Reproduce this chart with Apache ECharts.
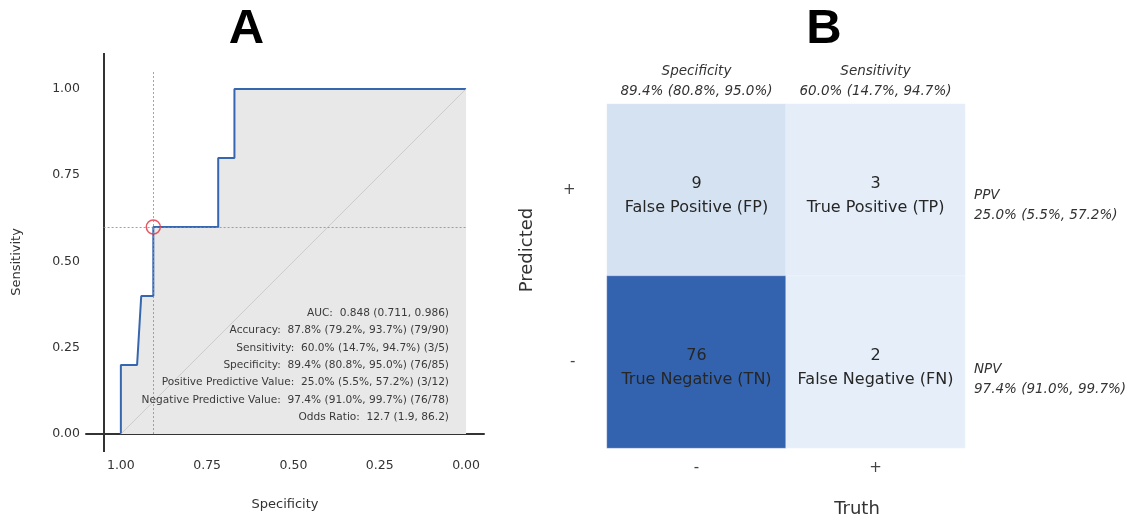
<!DOCTYPE html>
<html>
<head>
<meta charset="utf-8">
<script src="https://cdn.jsdelivr.net/npm/echarts@6/dist/echarts.min.js"></script>
<style>
  html, body { margin: 0; padding: 0; background: #fff; }
  #chart { width: 1131px; height: 519px; }
</style>
</head>
<body>
<div id="chart"></div>
<script>
// ---- Panel A: ROC curve (specificity on a reversed axis, sensitivity) ----
const rocSpecificity = [1, 1, 0.953, 0.941, 0.906, 0.906, 0.718, 0.718, 0.671, 0.671, 0];
const rocSensitivity = [0, 0.2, 0.2, 0.4, 0.4, 0.6, 0.6, 0.8, 0.8, 1, 1];
// operating point at the chosen threshold
const cutSpecificity = 0.906;
const cutSensitivity = 0.6;
const rocTicks = [0, 0.25, 0.5, 0.75, 1];
const statLines = [
  'AUC:  0.848 (0.711, 0.986)',
  'Accuracy:  87.8% (79.2%, 93.7%) (79/90)',
  'Sensitivity:  60.0% (14.7%, 94.7%) (3/5)',
  'Specificity:  89.4% (80.8%, 95.0%) (76/85)',
  'Positive Predictive Value:  25.0% (5.5%, 57.2%) (3/12)',
  'Negative Predictive Value:  97.4% (91.0%, 99.7%) (76/78)',
  'Odds Ratio:  12.7 (1.9, 86.2)'
];

// ---- Panel B: confusion matrix ----
const truthLabels = ['-', '+'];
const predLabels = ['-', '+'];          // bottom to top
const cellTruth = [0, 1, 0, 1];
const cellPred = [1, 1, 0, 0];
const cellCounts = [9, 3, 76, 2];
const cellNames = ['False Positive (FP)', 'True Positive (TP)', 'True Negative (TN)', 'False Negative (FN)'];
const colHeaders = [['Specificity', '89.4% (80.8%, 95.0%)'], ['Sensitivity', '60.0% (14.7%, 94.7%)']];
const rowNotes = [['PPV', '25.0% (5.5%, 57.2%)'], ['NPV', '97.4% (91.0%, 99.7%)']];

const FONT = 'DejaVu Sans';
const TXT = '#333';

const rocPoints = rocSpecificity.map((s, i) => [s, rocSensitivity[i]]);
const heatData = cellCounts.map((v, i) => ({ value: [cellTruth[i], cellPred[i], v], name: cellNames[i] }));

const SPINE_AT = 1.05;   // where the vertical spine and guide lines sit

const chart = echarts.init(document.getElementById('chart'), null, { renderer: 'canvas' });

const graphics = [];
function txt(x, y, text, opts) {
  graphics.push(Object.assign({
    type: 'text', x: x, y: y, z: 100, silent: true,
    style: Object.assign({
      text: text, fill: TXT, fontFamily: FONT, fontSize: 13,
      textAlign: 'center', textVerticalAlign: 'middle'
    }, opts && opts.style)
  }, opts && opts.rotation !== undefined ? { rotation: opts.rotation } : {}));
}

// panel letters
txt(246.5, 29, 'A', { style: { fontFamily: 'Liberation Sans', fontWeight: 'bold', fontSize: 49, fill: '#000' } });
txt(824, 29, 'B', { style: { fontFamily: 'Liberation Sans', fontWeight: 'bold', fontSize: 49, fill: '#000' } });

// panel A axis titles
txt(285, 505, 'Specificity', { style: { fontSize: 13 } });
txt(17, 262, 'Sensitivity', { style: { fontSize: 13 }, rotation: Math.PI / 2 });

// statistics block
statLines.forEach((s, i) => {
  txt(449, 313.3 + 17.3 * i, s, { style: { fontSize: 10.6, textAlign: 'right', fill: '#3a3a3a' } });
});

// panel B headers and side notes
const colCenters = [696.5, 875.5];
colHeaders.forEach((h, i) => {
  txt(colCenters[i], 71, h[0], { style: { fontSize: 13.5, fontStyle: 'italic' } });
  txt(colCenters[i], 91.5, h[1], { style: { fontSize: 13.5, fontStyle: 'italic' } });
});
const noteTops = [195, 369];
rowNotes.forEach((n, i) => {
  txt(974, noteTops[i], n[0], { style: { fontSize: 13.5, fontStyle: 'italic', textAlign: 'left' } });
  txt(974, noteTops[i] + 20.5, n[1], { style: { fontSize: 13.5, fontStyle: 'italic', textAlign: 'left' } });
});

// panel B axis titles
txt(857, 509, 'Truth', { style: { fontSize: 18 } });
txt(527, 250, 'Predicted', { style: { fontSize: 18 }, rotation: Math.PI / 2 });

const option = {
  backgroundColor: '#fff',
  animation: false,
  grid: [
    { left: 86, right: 1131 - 484, top: 53, bottom: 519 - 452 },
    { left: 607, right: 1131 - 965, top: 104, bottom: 519 - 448 }
  ],
  xAxis: [
    {
      gridIndex: 0, type: 'value', inverse: true, min: -0.052, max: 1.101,
      axisLine: { show: true, onZero: true, lineStyle: { color: '#333', width: 2 } },
      axisTick: { show: false },
      splitLine: { show: false },
      axisLabel: {
        customValues: rocTicks, margin: 7, fontSize: 12.5, color: TXT, fontFamily: FONT,
        formatter: v => v.toFixed(2)
      }
    },
    {
      gridIndex: 1, type: 'category', data: truthLabels,
      axisLine: { show: false }, axisTick: { show: false }, splitLine: { show: false },
      axisLabel: { margin: 13, fontSize: 15, color: '#444', fontFamily: FONT }
    }
  ],
  yAxis: [
    {
      gridIndex: 0, type: 'value', min: -0.052, max: 1.104,
      axisLine: { show: false },
      axisTick: { show: false },
      splitLine: { show: false },
      axisLabel: {
        customValues: rocTicks, margin: 6, fontSize: 12.5, color: TXT, fontFamily: FONT,
        formatter: v => v.toFixed(2)
      }
    },
    {
      gridIndex: 1, type: 'category', data: predLabels,
      axisLine: { show: false }, axisTick: { show: false }, splitLine: { show: false },
      axisLabel: { margin: 31.5, fontSize: 15, color: '#444', fontFamily: FONT }
    }
  ],
  visualMap: {
    show: false, type: 'continuous', seriesIndex: 3, dimension: 2,
    min: 2, max: 76,
    inRange: { color: ['#e6eff9', '#3363ae'] }
  },
  series: [
    {
      // shaded area under the ROC curve plus reference lines
      type: 'line', xAxisIndex: 0, yAxisIndex: 0, z: 1,
      data: rocPoints, showSymbol: false, silent: true,
      lineStyle: { width: 0 },
      areaStyle: { color: '#e8e8e8', opacity: 1 },
      markLine: {
        silent: true, symbol: 'none', label: { show: false },
        data: [
          // left spine
          [{ coord: [SPINE_AT, -0.052], lineStyle: { color: '#333', width: 2, type: 'solid' } },
           { coord: [SPINE_AT, 1.104] }],
          // chance diagonal
          [{ coord: [1, 0], lineStyle: { color: '#c4c4c4', width: 0.8, type: 'solid' } },
           { coord: [0, 1] }],
          // guide lines through the operating point
          [{ coord: [cutSpecificity, 0], lineStyle: { color: '#8a8a8a', width: 0.8, type: [2, 2] } },
           { coord: [cutSpecificity, SPINE_AT] }],
          [{ coord: [SPINE_AT, cutSensitivity], lineStyle: { color: '#8a8a8a', width: 0.8, type: [2, 2] } },
           { coord: [0, cutSensitivity] }]
        ]
      }
    },
    {
      type: 'line', xAxisIndex: 0, yAxisIndex: 0, z: 3,
      data: rocPoints, showSymbol: false, silent: true,
      lineStyle: { color: '#3766b0', width: 2 }
    },
    {
      type: 'scatter', xAxisIndex: 0, yAxisIndex: 0, z: 4,
      data: [[cutSpecificity, cutSensitivity]], symbol: 'circle', symbolSize: 14, silent: true,
      itemStyle: { color: 'rgba(0,0,0,0)', borderColor: '#e0303c', borderWidth: 1.5 }
    },
    {
      type: 'heatmap', xAxisIndex: 1, yAxisIndex: 1,
      data: heatData,
      itemStyle: { borderColor: 'rgba(255,255,255,0.45)', borderWidth: 0.6 },
      label: {
        show: true, color: '#262626', fontFamily: FONT, fontSize: 16, lineHeight: 24,
        offset: [0, 6],
        formatter: p => p.value[2] + '\n' + p.name
      },
      emphasis: { disabled: true }
    }
  ],
  graphic: graphics
};

chart.setOption(option);
</script>
</body>
</html>
